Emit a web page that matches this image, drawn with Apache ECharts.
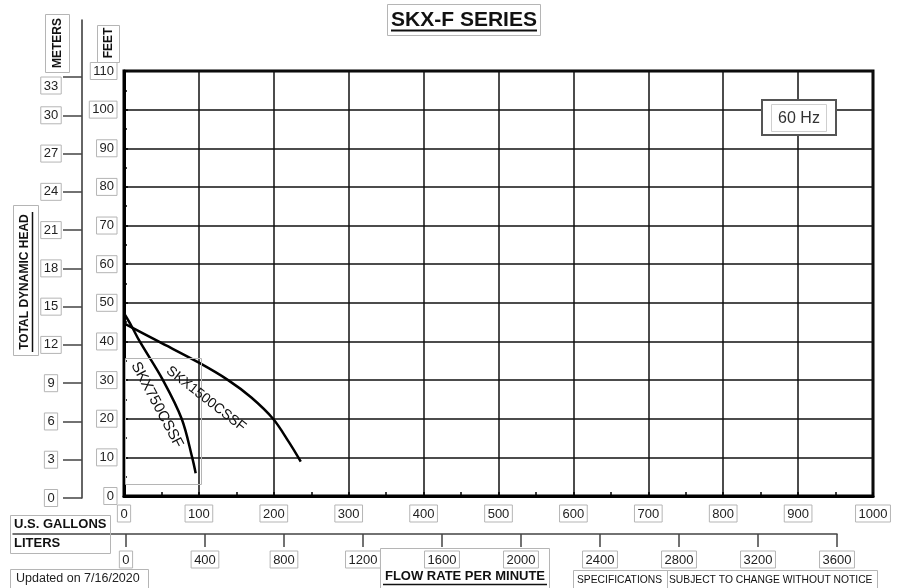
<!DOCTYPE html>
<html>
<head>
<meta charset="utf-8">
<script src="https://cdn.jsdelivr.net/npm/echarts@6/dist/echarts.min.js"></script>
<style>
html,body{margin:0;padding:0;background:#fff;}
#c{width:904px;height:588px;}
</style>
</head>
<body>
<div id="c"></div>
<script>
// ---- data ----
const flowTicksGpm = [0, 100, 200, 300, 400, 500, 600, 700, 800, 900, 1000];
const headTicksFt = [0, 10, 20, 30, 40, 50, 60, 70, 80, 90, 100, 110];
const headTicksM = [0, 3, 6, 9, 12, 15, 18, 21, 24, 27, 30, 33];
const headLabelsMLow = [0, 3, 6, 9, 12, 15, 18, 21, 24, 27, 30];
const headLabelsMTop = [33];
const flowTicksL = [0, 400, 800, 1200, 1600, 2000, 2400, 2800, 3200, 3600];

const skx750Flow = [0, 10, 21, 52, 77, 91, 95.7];
const skx750Head = [47.3, 44, 40, 30, 20, 10, 5.9];
const skx1500Flow = [0, 46, 100, 139, 170, 199, 220, 236];
const skx1500Head = [44.7, 40, 34.5, 30, 25.5, 20, 14, 8.9];

const FF = '"Liberation Sans", Arial, sans-serif';
const plain = v => String(v);
const boxLabel = {
  fontFamily: FF, fontSize: 13, color: '#222',
  borderColor: '#b5b5b5', borderWidth: 1, padding: [3, 3, 1, 3],
  formatter: plain
};

function pairs(xs, ys) { return xs.map((x, i) => [x, ys[i]]); }

const chart = echarts.init(document.getElementById('c'), null, {renderer: 'canvas'});

function box(x, y, w, h, opts) {
  opts = opts || {};
  return {type: 'rect', z: 100, shape: {x: x, y: y, width: w, height: h},
    style: {fill: opts.fill || null, stroke: opts.stroke || '#b5b5b5', lineWidth: opts.lw || 1}};
}
function txt(x, y, text, font, align, rot, color) {
  const o = {type: 'text', z: 101, x: x, y: y,
    style: {text: text, font: font, fill: color || '#111', align: align || 'center', verticalAlign: 'middle'}};
  if (rot) o.rotation = rot;
  return o;
}
function hline(x1, x2, y, w) {
  return {type: 'line', z: 101, shape: {x1: x1, y1: y, x2: x2, y2: y}, style: {stroke: '#111', lineWidth: w}};
}

const graphics = [
  // title
  box(387.5, 4.5, 153, 31),
  txt(464, 20, 'SKX-F SERIES', 'bold 21px ' + FF),
  hline(391, 537, 30.5, 2),
  // METERS / FEET
  box(45.5, 14.5, 24, 58),
  txt(58, 43, 'METERS', 'bold 12px ' + FF, 'center', Math.PI / 2),
  box(97.5, 25.5, 22, 37),
  txt(109, 43, 'FEET', 'bold 12px ' + FF, 'center', Math.PI / 2),
  // TOTAL DYNAMIC HEAD
  box(13.5, 205.5, 25, 150),
  txt(25, 282, 'TOTAL DYNAMIC HEAD', 'bold 12px ' + FF, 'center', Math.PI / 2),
  {type: 'line', z: 101, shape: {x1: 32.5, y1: 212, x2: 32.5, y2: 352}, style: {stroke: '#111', lineWidth: 1.5}},
  // 60 Hz
  box(762, 100, 74, 35, {fill: '#fff', stroke: '#555', lw: 2}),
  box(771.5, 104.5, 55, 27, {stroke: '#cfcfcf'}),
  txt(799, 119, '60 Hz', '16px ' + FF, 'center', 0, '#333'),
  // curve labels
  box(125.5, 358.5, 76, 126),
  txt(157, 405, 'SKX750CSSF', '15px ' + FF, 'center', -62 * Math.PI / 180),
  txt(206, 399, 'SKX1500CSSF', '14px ' + FF, 'center', -38 * Math.PI / 180),
  // U.S. GALLONS / LITERS
  box(10.5, 515.5, 100, 38),
  txt(14, 524, 'U.S. GALLONS', 'bold 13px ' + FF, 'left'),
  txt(14, 543, 'LITERS', 'bold 13px ' + FF, 'left'),
  // Updated
  box(10.5, 569.5, 138, 22),
  txt(16, 579, 'Updated on 7/16/2020', '12.5px ' + FF, 'left', 0, '#222'),
  // FLOW RATE PER MINUTE
  box(380.5, 548.5, 169, 45),
  txt(465, 576, 'FLOW RATE PER MINUTE', 'bold 13px ' + FF),
  hline(383, 547, 584.5, 1.5),
  // SPECIFICATIONS
  box(573.5, 570.5, 94, 20),
  box(667.5, 570.5, 210, 20),
  txt(577, 580, 'SPECIFICATIONS', '10.3px ' + FF, 'left'),
  txt(669, 580, 'SUBJECT TO CHANGE WITHOUT NOTICE', '10.3px ' + FF, 'left')
];

const option = {
  animation: false,
  backgroundColor: '#fff',
  grid: [
    {left: 124, top: 71, width: 749, height: 425, show: true, borderColor: '#000', borderWidth: 3, backgroundColor: 'transparent'},
    {left: 82, top: 20, width: 10, height: 478, show: false},
    {left: 13, top: 500, width: 824, height: 34, show: false}
  ],
  xAxis: [
    {
      type: 'value', gridIndex: 0, min: 0, max: 1000, interval: 100,
      axisLine: {show: true, lineStyle: {color: '#000', width: 3}},
      axisTick: {show: true, inside: true, length: 4, lineStyle: {color: '#000', width: 1.5}},
      minorTick: {show: true, splitNumber: 2, length: 4, lineStyle: {color: '#000', width: 1.5}},
      splitLine: {show: true, lineStyle: {color: '#111', width: 1.5}},
      axisLabel: Object.assign({}, boxLabel, {margin: 9, customValues: flowTicksGpm})
    },
    {type: 'value', gridIndex: 1, min: 0, max: 1, show: false},
    {
      type: 'value', gridIndex: 2, min: -572, max: 3600,
      axisLine: {show: true, lineStyle: {color: '#444', width: 1.5}},
      axisTick: {show: true, length: 13, customValues: flowTicksL, lineStyle: {color: '#444', width: 1.5}},
      splitLine: {show: false},
      axisLabel: Object.assign({}, boxLabel, {margin: 17, customValues: flowTicksL})
    }
  ],
  yAxis: [
    {
      type: 'value', gridIndex: 0, min: 0, max: 110, interval: 10,
      axisLine: {show: true, lineStyle: {color: '#000', width: 3}},
      axisTick: {show: true, inside: true, length: 4, lineStyle: {color: '#000', width: 1.5}},
      minorTick: {show: true, splitNumber: 2, length: 3, lineStyle: {color: '#000', width: 1.5}},
      splitLine: {show: true, lineStyle: {color: '#111', width: 1.5}},
      axisLabel: Object.assign({}, boxLabel, {margin: 7, customValues: headTicksFt})
    },
    {
      type: 'value', gridIndex: 1, min: 0, max: 37.47, position: 'left',
      axisLine: {show: true, lineStyle: {color: '#333', width: 1.5}},
      axisTick: {show: true, length: 19, customValues: headTicksM, lineStyle: {color: '#444', width: 1.5}},
      splitLine: {show: false},
      axisLabel: Object.assign({}, boxLabel, {margin: 31, align: 'center', customValues: headLabelsMLow})
    },
    {type: 'value', gridIndex: 2, min: 0, max: 1, show: false},
    {
      type: 'value', gridIndex: 1, min: 0, max: 37.47, position: 'left',
      axisLine: {show: false}, axisTick: {show: false}, splitLine: {show: false},
      axisLabel: Object.assign({}, boxLabel, {margin: 31, align: 'center', verticalAlign: 'top', customValues: headLabelsMTop})
    }
  ],
  series: [
    {
      name: 'SKX750CSSF', type: 'line', xAxisIndex: 0, yAxisIndex: 0,
      data: pairs(skx750Flow, skx750Head), smooth: 0.35, symbol: 'none',
      lineStyle: {color: '#000', width: 2.5}
    },
    {
      name: 'SKX1500CSSF', type: 'line', xAxisIndex: 0, yAxisIndex: 0,
      data: pairs(skx1500Flow, skx1500Head), smooth: 0.35, symbol: 'none',
      lineStyle: {color: '#000', width: 2.5}
    }
  ],
  graphic: graphics
};
chart.setOption(option);
</script>
</body>
</html>
